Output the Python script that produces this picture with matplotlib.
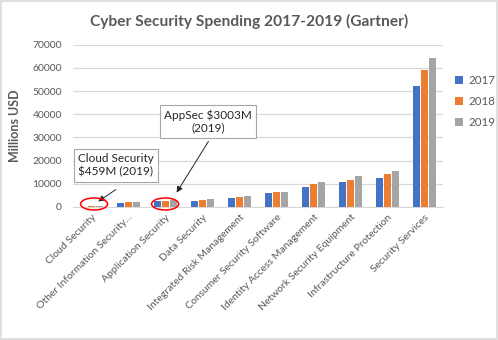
import matplotlib
matplotlib.use("Agg")
import matplotlib.pyplot as plt
from matplotlib.patches import Ellipse, Rectangle
import numpy as np

# Gartner spending, millions USD
categories = ["Cloud Security", "Other Information Security\u2026", "Application Security",
              "Data Security", "Integrated Risk Management", "Consumer Security Software",
              "Identity Access Management", "Network Security Equipment",
              "Infrastructure Protection", "Security Services"]
years = ["2017", "2018", "2019"]
spend_2017 = [185, 1832, 2434, 2563, 3949, 5948, 8823, 10911, 12583, 52315]
spend_2018 = [304, 2037, 2742, 3063, 4347, 6395, 9768, 11669, 14106, 58920]
spend_2019 = [459, 2201, 3003, 3524, 4712, 6661, 10578, 13321, 15337, 64237]
colors = ["#4472C4", "#ED7D31", "#A5A5A5"]

plt.rcParams['font.family'] = ['Lato', 'DejaVu Sans']
grey = "#595959"

fig = plt.figure(figsize=(4.98, 3.40), dpi=100)
ax = fig.add_axes([0.1466, 0.3912, 0.743, 0.4773])

x = np.arange(len(categories))
w = 0.18
for i, vals in enumerate([spend_2017, spend_2018, spend_2019]):
    ax.bar(x + (i - 1) * 0.22, vals, w, color=colors[i], label=years[i], zorder=3)

ax.set_xlim(-0.5, len(categories) - 0.5)
ax.set_ylim(0, 70000)
ax.set_yticks(range(0, 70001, 10000))
ax.yaxis.grid(True, color="#D9D9D9", linewidth=0.9, zorder=0)
ax.set_xticks(x)
ax.set_xticklabels(categories, rotation=45, ha='right', rotation_mode='anchor')
ax.tick_params(axis='both', length=0, colors=grey, labelsize=7.5)
ax.tick_params(axis='x', pad=4)
ax.tick_params(axis='y', pad=8)
for s in ['top', 'right', 'left']:
    ax.spines[s].set_visible(False)
ax.spines['bottom'].set_color("#D9D9D9")

ax.set_ylabel("Millions USD", fontsize=9, fontweight='bold', color=grey, labelpad=8)
fig.text(0.5, 0.938, "Cyber Security Spending 2017-2019 (Gartner)", ha='center', va='center',
         fontsize=11.2, fontweight='bold', color=grey)

ax.legend(loc='center left', bbox_to_anchor=(1.005, 0.65), frameon=False, fontsize=8.3,
          handlelength=0.7, handleheight=0.7, labelspacing=0.85, handletextpad=0.4,
          labelcolor=grey)

# annotations
box = dict(boxstyle='square,pad=0.35', fc='white', ec='#A6A6A6', lw=0.8)
ax.text(0.66, 17900, "Cloud Security\n$459M (2019)", ha='center', va='center',
        fontsize=8.5, color='#262626', bbox=box, zorder=5)
ax.text(3.15, 36850, "AppSec $3003M\n(2019)", ha='center', va='center',
        fontsize=8.5, color='#262626', bbox=box, zorder=5)
ax.annotate('', xy=(0.12, 1700), xytext=(0.72, 8200),
            arrowprops=dict(arrowstyle='-|>', color='#262626', lw=0.7, mutation_scale=9), zorder=6)
ax.annotate('', xy=(2.26, 5200), xytext=(3.2, 29300),
            arrowprops=dict(arrowstyle='-|>', color='#262626', lw=0.7, mutation_scale=9), zorder=6)
for cx in [0.07, 1.99]:
    ax.add_patch(Ellipse((cx, 1300), 0.73, 5200, fill=False, ec='red', lw=1.1,
                         zorder=6, clip_on=False))

fig.patches.append(Rectangle((0.002, 0.003), 0.996, 0.994, transform=fig.transFigure,
                             fill=False, ec='#D9D9D9', lw=1.2))

fig.savefig("out.png", dpi=100)
